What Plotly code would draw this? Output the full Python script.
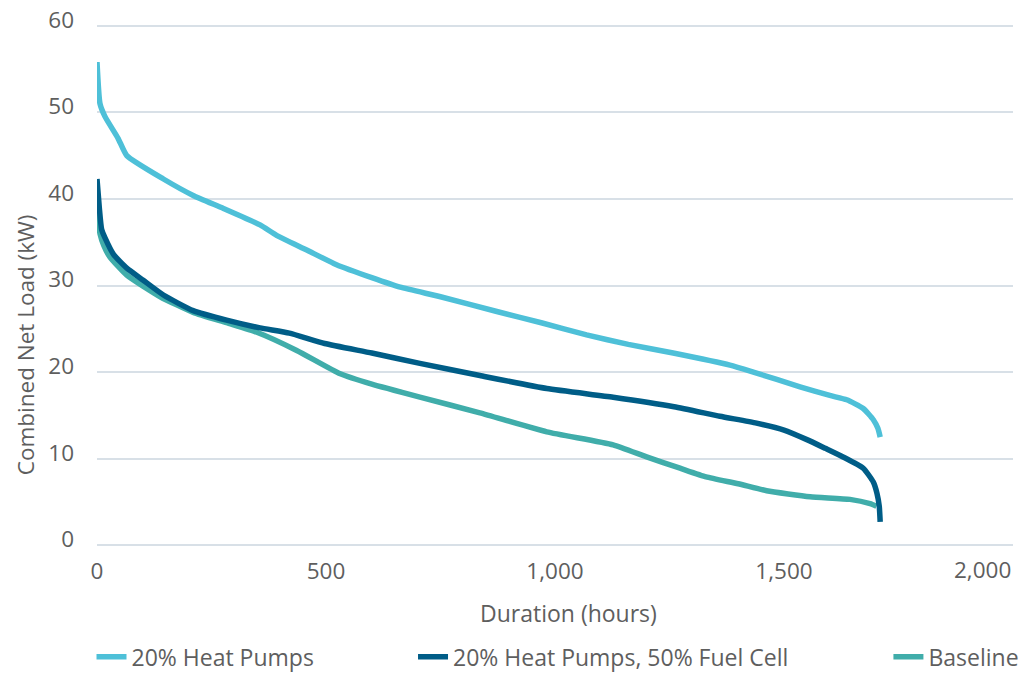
import plotly.graph_objects as go

# ---- data ----
hp_hours = [0, 6.5, 17.5, 46, 65, 145, 210, 276, 356, 392, 458, 523, 600, 662, 750, 873,
            970, 1069, 1160, 1258, 1382, 1433, 1535, 1600, 1637, 1673, 1695, 1705, 1710]
hp_kw = [55.8, 51.0, 49.5, 47.0, 45.0, 42.3, 40.4, 38.9, 37.0, 35.8, 34.1, 32.4, 30.9, 29.8,
         28.7, 27.0, 25.7, 24.3, 23.2, 22.2, 20.8, 20.0, 18.3, 17.3, 16.8, 15.8, 14.5, 13.5, 12.5]

fc_hours = [0, 5, 10, 17.5, 36, 65, 101, 145, 210, 283, 356, 420, 497, 600, 705, 836, 982,
            1127, 1260, 1360, 1440, 1500, 1550, 1590, 1629, 1673, 1695, 1703, 1708, 1710]
fc_kw = [42.3, 39.0, 36.5, 35.5, 33.6, 32.0, 30.6, 28.9, 27.1, 26.0, 25.1, 24.5, 23.3, 22.2,
         21.0, 19.6, 18.1, 17.1, 16.0, 14.9, 14.1, 13.3, 12.2, 11.2, 10.2, 8.9, 7.3, 6.0, 4.5, 2.7]

base_hours = [0, 4, 6.5, 15, 28, 65, 138, 210, 283, 349, 436, 531, 600, 705, 836, 982, 1127,
              1200, 1273, 1330, 1400, 1462, 1557, 1644, 1688, 1702]
base_kw = [40.2, 37.0, 36.0, 34.6, 33.3, 31.2, 28.7, 26.9, 25.7, 24.6, 22.5, 19.8, 18.6, 17.1,
           15.3, 13.1, 11.6, 10.2, 8.9, 7.9, 7.1, 6.3, 5.6, 5.3, 4.8, 4.5]

series_names = ["20% Heat Pumps", "20% Heat Pumps, 50% Fuel Cell", "Baseline"]
series_colors = ["#4EC0D8", "#005D87", "#40ADAA"]

x_tickvals = [0, 500, 1000, 1500, 2000]
x_ticktext = ["0", "500", "1,000", "1,500", ""]
y_tickvals = [0, 10, 20, 30, 40, 50, 60]
x_title = "Duration (hours)"
y_title = "Combined Net Load (kW)"

FONT = "Open Sans"
GRAY = "#5E5E5E"

fig = go.Figure()
data = [(hp_hours, hp_kw), (fc_hours, fc_kw), (base_hours, base_kw)]
legends = ["legend", "legend2", "legend3"]
order = [2, 0, 1]
for i in order:
    xs, ys = data[i]
    fig.add_trace(go.Scatter(
        x=xs, y=ys, mode="lines", name=series_names[i],
        line=dict(color=series_colors[i], width=5.5, shape="spline", smoothing=0.5),
        legend=legends[i],
    ))

legend_common = dict(orientation="h", yanchor="middle", y=-0.21, xanchor="left",
                     bgcolor="rgba(0,0,0,0)", font=dict(family=FONT, size=23, color=GRAY),
                     itemwidth=30, borderwidth=0)

fig.update_layout(
    width=1029, height=673,
    margin=dict(l=97, r=16, t=24, b=126, autoexpand=False),
    plot_bgcolor="white", paper_bgcolor="white",
    font=dict(family=FONT, color=GRAY, size=22),
    showlegend=True,
    legend=dict(x=-0.006, **legend_common),
    legend2=dict(x=0.345, **legend_common),
    legend3=dict(x=0.864, **legend_common),
    xaxis=dict(
        range=[0, 2000], tickvals=x_tickvals, ticktext=x_ticktext,
        showgrid=False, zeroline=False, showline=False, ticks="",
        tickfont=dict(family=FONT, size=22.5, color=GRAY),
        ticklabelstandoff=8, automargin=False,
    ),
    yaxis=dict(
        range=[-0.2, 60.2], tickvals=y_tickvals,
        showgrid=True, gridcolor="#D8E0E7", gridwidth=2,
        zeroline=False, showline=False, ticks="",
        tickfont=dict(family=FONT, size=22.5, color=GRAY),
        ticklabelstandoff=22, ticklabelshift=-6, ticklabeloverflow="allow",
        automargin=False,
    ),
)

# x tick label at the right end, kept inside the figure
fig.add_annotation(
    x=2000, xref="x", y=0, yref="paper", xanchor="right", yanchor="top",
    text="2,000", showarrow=False, yshift=-5,
    font=dict(family=FONT, size=22.5, color=GRAY),
)
# axis titles
fig.add_annotation(
    x=1030, xref="x", y=0, yref="paper", xanchor="center", yanchor="middle",
    text=x_title, showarrow=False, yshift=-66,
    font=dict(family=FONT, size=23, color=GRAY),
)
fig.add_annotation(
    x=0, xref="paper", y=23.1, yref="y", xanchor="center", yanchor="middle",
    text=y_title, showarrow=False, textangle=-90, xshift=-72,
    font=dict(family=FONT, size=22.5, color=GRAY),
)

# the page is exactly the figure size: drop the default body margin
fig.write_html("out.html", config={"displayModeBar": False},
               post_script="document.body.style.margin='0';")
